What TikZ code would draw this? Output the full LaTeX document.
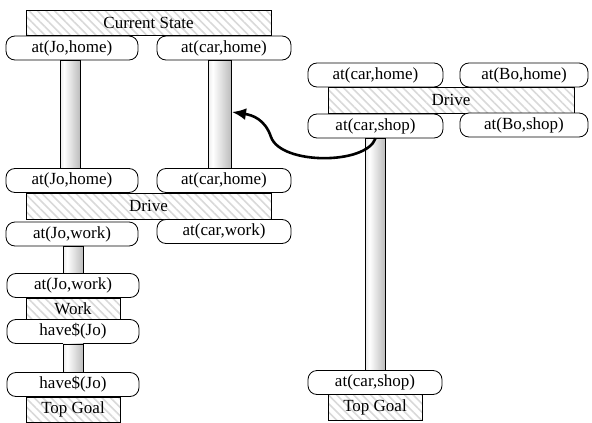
\documentclass[tikz,border=0pt]{standalone}
\usepackage{fontspec}
\setmainfont{Liberation Serif}
\usetikzlibrary{patterns.meta,arrows.meta,calc}

\pgfdeclarehorizontalshading{barshade}{100bp}{color(0bp)=(gray!55); color(35bp)=(white); color(100bp)=(gray!85)}

\tikzset{
  cond/.style={draw, rounded corners=9pt, minimum width=132pt, minimum height=24pt,
    inner sep=0pt, fill=white, font=\fontsize{17}{19}\selectfont},
  oper/.style={draw, minimum height=25pt, inner sep=0pt, font=\fontsize{17}{19}\selectfont,
    preaction={fill=white},
    pattern={Lines[angle=-45,distance=6pt,line width=1.6pt]}, pattern color=gray!30},
  bar/.style={draw, shading=barshade}
}

\begin{document}
\begin{tikzpicture}[x=1pt, y=-1pt, line width=0.8pt]
    \useasboundingbox (0,0) rectangle (592,423);

    % 左边：初始状态
    \node[oper, minimum width=245pt] (cur) at (148.5,22.5) {Current State};
    \node[cond] (jh1) at (72,48) {at(Jo,home)};
    \node[cond, minimum width=134pt] (ch1) at (224,48) {at(car,home)};

    % Drive
    \node[cond] (jh2) at (72,180.5) {at(Jo,home)};
    \node[cond, minimum width=134pt] (ch2) at (224,180.5) {at(car,home)};
    \node[oper, minimum width=245pt, minimum height=26pt] (drv1) at (148.5,206) {Drive};
    \node[cond] (jw1) at (72,234) {at(Jo,work)};
    \node[cond, minimum width=134pt] (cw1) at (224,231.5) {at(car,work)};

    % Work
    \node[cond] (jw2) at (73,285.5) {at(Jo,work)};
    \node[oper, minimum width=94pt, minimum height=21pt] (wrk) at (73,308.5) {Work};
    \node[cond] (hj1) at (73,331.5) {have\$(Jo)};

    % 目标
    \node[cond] (hj2) at (73,384.5) {have\$(Jo)};
    \node[oper, minimum width=94pt] (top1) at (73,409.5) {Top Goal};

    % 右边：另一个计划
    \node[cond, minimum width=135pt] (ch3) at (375.5,75) {at(car,home)};
    \node[cond, minimum width=128pt] (bh1) at (524,75) {at(Bo,home)};
    \node[oper, minimum width=246pt, minimum height=26pt] (drv2) at (451,100) {Drive};
    \node[cond, minimum width=135pt] (cs1) at (375.5,126) {at(car,shop)};
    \node[cond, minimum width=128pt] (bs1) at (524,125) {at(Bo,shop)};

    \node[cond, minimum width=134pt] (cs2) at (375,382.5) {at(car,shop)};
    \node[oper, minimum width=94pt, minimum height=26pt] (top2) at (375,407.5) {Top Goal};

    % 因果链
    \shade[bar] ($(jh1.south)+(-12,0)$) rectangle ($(jh2.north)+(8,0)$);
    \shade[bar] ($(ch1.south)+(-16,0)$) rectangle ($(ch2.north)+(7,0)$);
    \shade[bar] ($(jw1.south)+(-9,0)$) rectangle ($(jw2.north)+(10,0)$);
    \shade[bar] ($(hj1.south)+(-10,0)$) rectangle ($(hj2.north)+(10,0)$);
    \shade[bar] ($(cs1.south)+(-10,0)$) rectangle ($(cs2.north)+(10,0)$);

    % 箭头
    \coordinate (tip) at (232,112);
    \draw[line width=2.6pt, -{Latex[length=14pt,width=12pt]}] (cs1.south)
        .. controls (366,165) and (281,165) .. (271,137)
        .. controls (265,119) and (252,115) .. (tip);
\end{tikzpicture}
\end{document}
